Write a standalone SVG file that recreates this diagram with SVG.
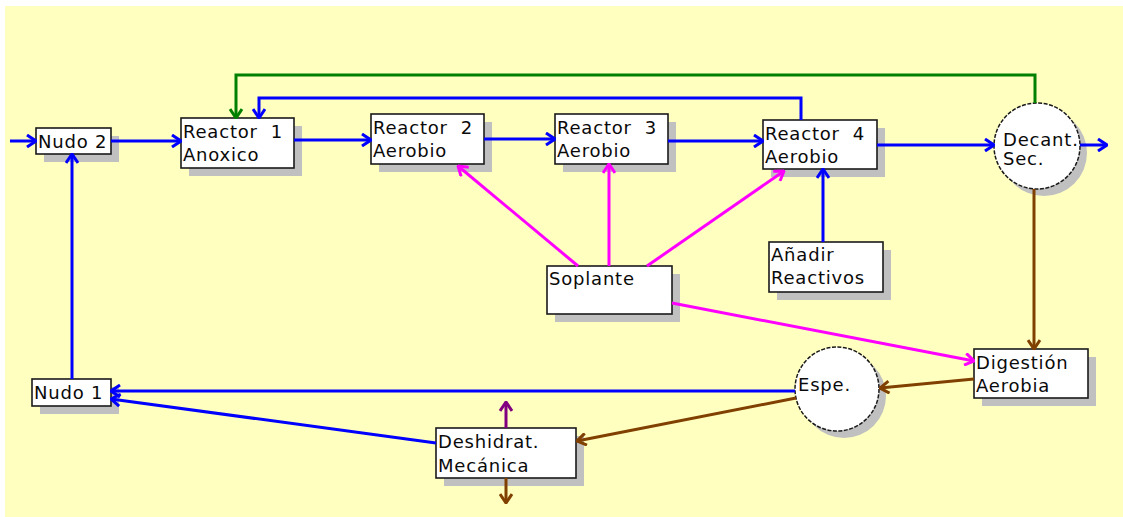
<svg xmlns="http://www.w3.org/2000/svg" width="1123" height="517" viewBox="0 0 1123 517">
  <style>
    .bg { fill: #ffffc0; }
    .shadow { fill: #c0c0c0; }
    .box { fill: #ffffff; stroke: #1a1a1a; stroke-width: 1.6; }
    .tank { fill: #ffffff; stroke: #1a1a1a; stroke-width: 1.5; stroke-dasharray: 4 1.5; }
    .lbl { font-family: "DejaVu Sans", "Liberation Sans", sans-serif; font-size: 18px; letter-spacing: 0.8px; fill: #0a0a0a; white-space: pre; }
    .c { fill: none; stroke-width: 3; stroke-linejoin: miter; }
    .blue { stroke: #0000ff; }
    .mag { stroke: #ff00ff; }
    .green { stroke: #008000; }
    .brown { stroke: #804000; }
    .purple { stroke: #800080; }
  </style>
  <defs>
    <marker id="ah-blue" viewBox="0 0 12 14" refX="11" refY="7" markerWidth="12" markerHeight="14" markerUnits="userSpaceOnUse" orient="auto">
      <path d="M2,1 L11,7 L2,13" fill="none" stroke="#0000ff" stroke-width="3"/>
    </marker>
    <marker id="ah-mag" viewBox="0 0 12 14" refX="11" refY="7" markerWidth="12" markerHeight="14" markerUnits="userSpaceOnUse" orient="auto">
      <path d="M2,1 L11,7 L2,13" fill="none" stroke="#ff00ff" stroke-width="3"/>
    </marker>
    <marker id="ah-green" viewBox="0 0 12 14" refX="11" refY="7" markerWidth="12" markerHeight="14" markerUnits="userSpaceOnUse" orient="auto">
      <path d="M2,1 L11,7 L2,13" fill="none" stroke="#008000" stroke-width="3"/>
    </marker>
    <marker id="ah-brown" viewBox="0 0 12 14" refX="11" refY="7" markerWidth="12" markerHeight="14" markerUnits="userSpaceOnUse" orient="auto">
      <path d="M2,1 L11,7 L2,13" fill="none" stroke="#804000" stroke-width="3"/>
    </marker>
    <marker id="ah-purple" viewBox="0 0 12 14" refX="11" refY="7" markerWidth="12" markerHeight="14" markerUnits="userSpaceOnUse" orient="auto">
      <path d="M2,1 L11,7 L2,13" fill="none" stroke="#800080" stroke-width="3"/>
    </marker>
  </defs>

  <!-- canvas -->
  <rect class="bg" x="5" y="6" width="1118" height="511"/>

  <!-- process units -->
  <g id="nudo2">
    <rect class="shadow" x="44" y="136" width="75" height="26"/>
    <rect class="box" x="36" y="128" width="75" height="26"/>
    <text class="lbl" x="38" y="148">Nudo 2</text>
  </g>
  <g id="reactor1">
    <rect class="shadow" x="189" y="126" width="113" height="50"/>
    <rect class="box" x="181" y="118" width="113" height="50"/>
    <text class="lbl" x="183" y="138" xml:space="preserve">Reactor  1</text>
    <text class="lbl" x="183" y="161">Anoxico</text>
  </g>
  <g id="reactor2">
    <rect class="shadow" x="379" y="122" width="113" height="50"/>
    <rect class="box" x="371" y="114" width="113" height="50"/>
    <text class="lbl" x="373" y="134" xml:space="preserve">Reactor  2</text>
    <text class="lbl" x="373" y="157">Aerobio</text>
  </g>
  <g id="reactor3">
    <rect class="shadow" x="563" y="122" width="113" height="50"/>
    <rect class="box" x="555" y="114" width="113" height="50"/>
    <text class="lbl" x="557" y="134" xml:space="preserve">Reactor  3</text>
    <text class="lbl" x="557" y="157">Aerobio</text>
  </g>
  <g id="reactor4">
    <rect class="shadow" x="771" y="128" width="114" height="49"/>
    <rect class="box" x="763" y="120" width="114" height="49"/>
    <text class="lbl" x="765" y="140" xml:space="preserve">Reactor  4</text>
    <text class="lbl" x="765" y="163">Aerobio</text>
  </g>
  <g id="decantador">
    <circle class="shadow" cx="1044" cy="153" r="43"/>
    <circle class="tank" cx="1037" cy="146" r="43"/>
    <text class="lbl" x="1003" y="146">Decant.</text>
    <text class="lbl" x="1003" y="165">Sec.</text>
  </g>
  <g id="soplante">
    <rect class="shadow" x="555" y="274" width="125" height="48"/>
    <rect class="box" x="547" y="266" width="125" height="48"/>
    <text class="lbl" x="549" y="285">Soplante</text>
  </g>
  <g id="reactivos">
    <rect class="shadow" x="777" y="250" width="114" height="50"/>
    <rect class="box" x="769" y="242" width="114" height="50"/>
    <text class="lbl" x="771" y="261">Añadir</text>
    <text class="lbl" x="771" y="284">Reactivos</text>
  </g>
  <g id="digestion">
    <rect class="shadow" x="982" y="357" width="114" height="49"/>
    <rect class="box" x="974" y="349" width="114" height="49"/>
    <text class="lbl" x="976" y="369">Digestión</text>
    <text class="lbl" x="976" y="392">Aerobia</text>
  </g>
  <g id="espesador">
    <circle class="shadow" cx="844" cy="396" r="42"/>
    <circle class="tank" cx="837" cy="389" r="42"/>
    <text class="lbl" x="798" y="391">Espe.</text>
  </g>
  <g id="deshidratacion">
    <rect class="shadow" x="444" y="436" width="140" height="50"/>
    <rect class="box" x="436" y="428" width="140" height="50"/>
    <text class="lbl" x="438" y="448">Deshidrat.</text>
    <text class="lbl" x="438" y="472">Mecánica</text>
  </g>
  <g id="nudo1">
    <rect class="shadow" x="40" y="387" width="79" height="27"/>
    <rect class="box" x="32" y="379" width="79" height="27"/>
    <text class="lbl" x="34" y="399">Nudo 1</text>
  </g>

  <!-- flow lines -->
  <g id="connectors">
    <!-- main water line -->
    <path class="c blue" d="M10,141 H36" marker-end="url(#ah-blue)"/>
    <path class="c blue" d="M111,141 H181" marker-end="url(#ah-blue)"/>
    <path class="c blue" d="M294,140 H371" marker-end="url(#ah-blue)"/>
    <path class="c blue" d="M484,139 H555" marker-end="url(#ah-blue)"/>
    <path class="c blue" d="M668,141 H763" marker-end="url(#ah-blue)"/>
    <path class="c blue" d="M877,145 H994" marker-end="url(#ah-blue)"/>
    <path class="c blue" d="M1080,145 H1107" marker-end="url(#ah-blue)"/>
    <!-- internal recirculation -->
    <path class="c blue" d="M801,120 V98 H259 V118" marker-end="url(#ah-blue)"/>
    <!-- sludge recirculation -->
    <path class="c green" d="M1035,103 V75 H236 V118" marker-end="url(#ah-green)"/>
    <!-- chemicals -->
    <path class="c blue" d="M823,242 V169" marker-end="url(#ah-blue)"/>
    <!-- aeration -->
    <path class="c mag" d="M578,266 L458,166" marker-end="url(#ah-mag)"/>
    <path class="c mag" d="M609,266 V164" marker-end="url(#ah-mag)"/>
    <path class="c mag" d="M647,266 L784,171" marker-end="url(#ah-mag)"/>
    <path class="c mag" d="M672,303 L974,361" marker-end="url(#ah-mag)"/>
    <!-- sludge line -->
    <path class="c brown" d="M1034,189 V349" marker-end="url(#ah-brown)"/>
    <path class="c brown" d="M974,379 L880,388" marker-end="url(#ah-brown)"/>
    <path class="c brown" d="M796,398 L577,441" marker-end="url(#ah-brown)"/>
    <path class="c purple" d="M506,428 V402" marker-end="url(#ah-purple)"/>
    <path class="c brown" d="M506,478 V503" marker-end="url(#ah-brown)"/>
    <!-- returns to headworks -->
    <path class="c blue" d="M795,391 H111" marker-end="url(#ah-blue)"/>
    <path class="c blue" d="M436,443 L111,399" marker-end="url(#ah-blue)"/>
    <path class="c blue" d="M72,379 V154" marker-end="url(#ah-blue)"/>
  </g>
</svg>
